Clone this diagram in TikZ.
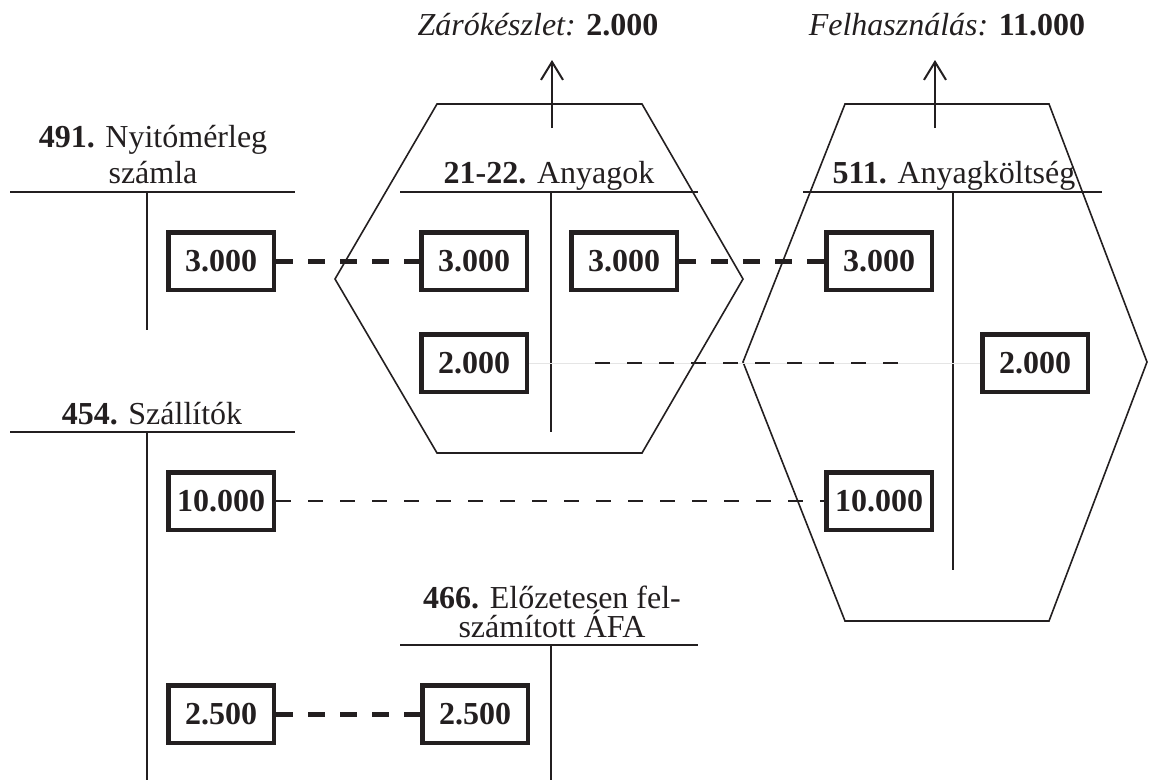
\documentclass[tikz,border=0pt]{standalone}
\usepackage{fontspec}
\setmainfont{Liberation Serif}
\usetikzlibrary{arrows.meta}
\definecolor{ink}{RGB}{35,31,32}
\begin{document}
\begin{tikzpicture}[x=1pt,y=-1pt,
  every node/.style={text=ink},
  font=\fontsize{32}{36}\selectfont,
  acct/.style={draw=ink, line width=2pt},
  hexa/.style={draw=ink, line width=1.6pt, line join=miter},
  amount/.style={draw=ink, fill=white, line width=4.5pt, minimum width=105.5pt,
    minimum height=57.5pt, inner sep=0pt, font=\fontsize{32}{36}\selectfont\bfseries},
  title/.style={inner sep=0pt, anchor=base, align=center},
  heavylink/.style={draw=ink, line width=5pt, dash pattern=on 17pt off 15pt},
  lightlink/.style={draw=ink, line width=1.6pt, dash pattern=on 15pt off 17pt},
  outflow/.style={draw=ink, line width=2pt,
    -{Straight Barb[length=18pt,width=22pt,line width=2pt]}}
]
\useasboundingbox (0,0) rectangle (1152,780);

% hexagonal frames of the two closed accounts
\draw[hexa] (437,104) -- (642,104) -- (743,279) -- (642,453) -- (437,453) -- (335,279) -- cycle;
\draw[hexa] (845,104) -- (1049,104) -- (1147,362) -- (1049,621) -- (845,621) -- (743,362) -- cycle;

% T-accounts
\draw[acct] (10,192) -- (295,192);   \draw[acct] (147,192) -- (147,330);
\draw[acct] (400,192) -- (698,192);  \draw[acct] (551,192) -- (551,432);
\draw[acct] (803,192) -- (1102,192); \draw[acct] (953,192) -- (953,570);
\draw[acct] (10,432) -- (295,432);   \draw[acct] (147,432) -- (147,780);
\draw[acct] (400,645) -- (698,645);  \draw[acct] (551,645) -- (551,780);

% account titles (base anchor sits on the last line)
\node[title] (t491) at (153,183) {\textbf{491.} Nyitómérleg\\számla};
\node[title] (t21) at (549,183) {\textbf{21-22.} Anyagok};
\node[title] (t511) at (954,183) {\textbf{511.} Anyagköltség};
\node[title] (t454) at (152,424) {\textbf{454.} Szállítók};
\node[title, font=\fontsize{32}{26}\selectfont] (t466) at (552,637)
  {\textbf{466.} Előzetesen fel-\\számított ÁFA};

% closing labels
\node[title] (zaro) at (538,35) {\textit{Zárókészlet:} \textbf{2.000}};
\node[title] (felh) at (947,35) {\textit{Felhasználás:} \textbf{11.000}};

% amounts
\node[amount] (n491) at (221,261) {3.000};
\node[amount] (anyT) at (474,261) {3.000};
\node[amount] (anyK) at (624,261) {3.000};
\node[amount] (kT) at (879,261) {3.000};
\node[amount] (anyZ) at (474,363) {2.000};
\node[amount] (kZ) at (1035,363) {2.000};
\node[amount] (n454a) at (221,501) {10.000};
\node[amount] (kB) at (879,501) {10.000};
\node[amount] (n454b) at (221,714) {2.500};
\node[amount] (afa) at (475,714) {2.500};

% postings
\draw[heavylink] (n491) -- (anyT);
\draw[heavylink] (anyK) -- (kT);
\draw[heavylink] (n454b) -- (afa);
\draw[lightlink] (n454a) -- (kB);
\draw[draw=black!10, line width=1pt] (anyZ) -- (kZ);
\draw[lightlink, shorten <=66pt, shorten >=82pt] (anyZ) -- (kZ);

% closing arrows
\coordinate (zs) at (552,128); \coordinate (ze) at (552,60);
\coordinate (fs) at (935,128); \coordinate (fe) at (935,60);
\draw[outflow] (zs) -- (ze);
\draw[outflow] (fs) -- (fe);
\end{tikzpicture}
\end{document}
